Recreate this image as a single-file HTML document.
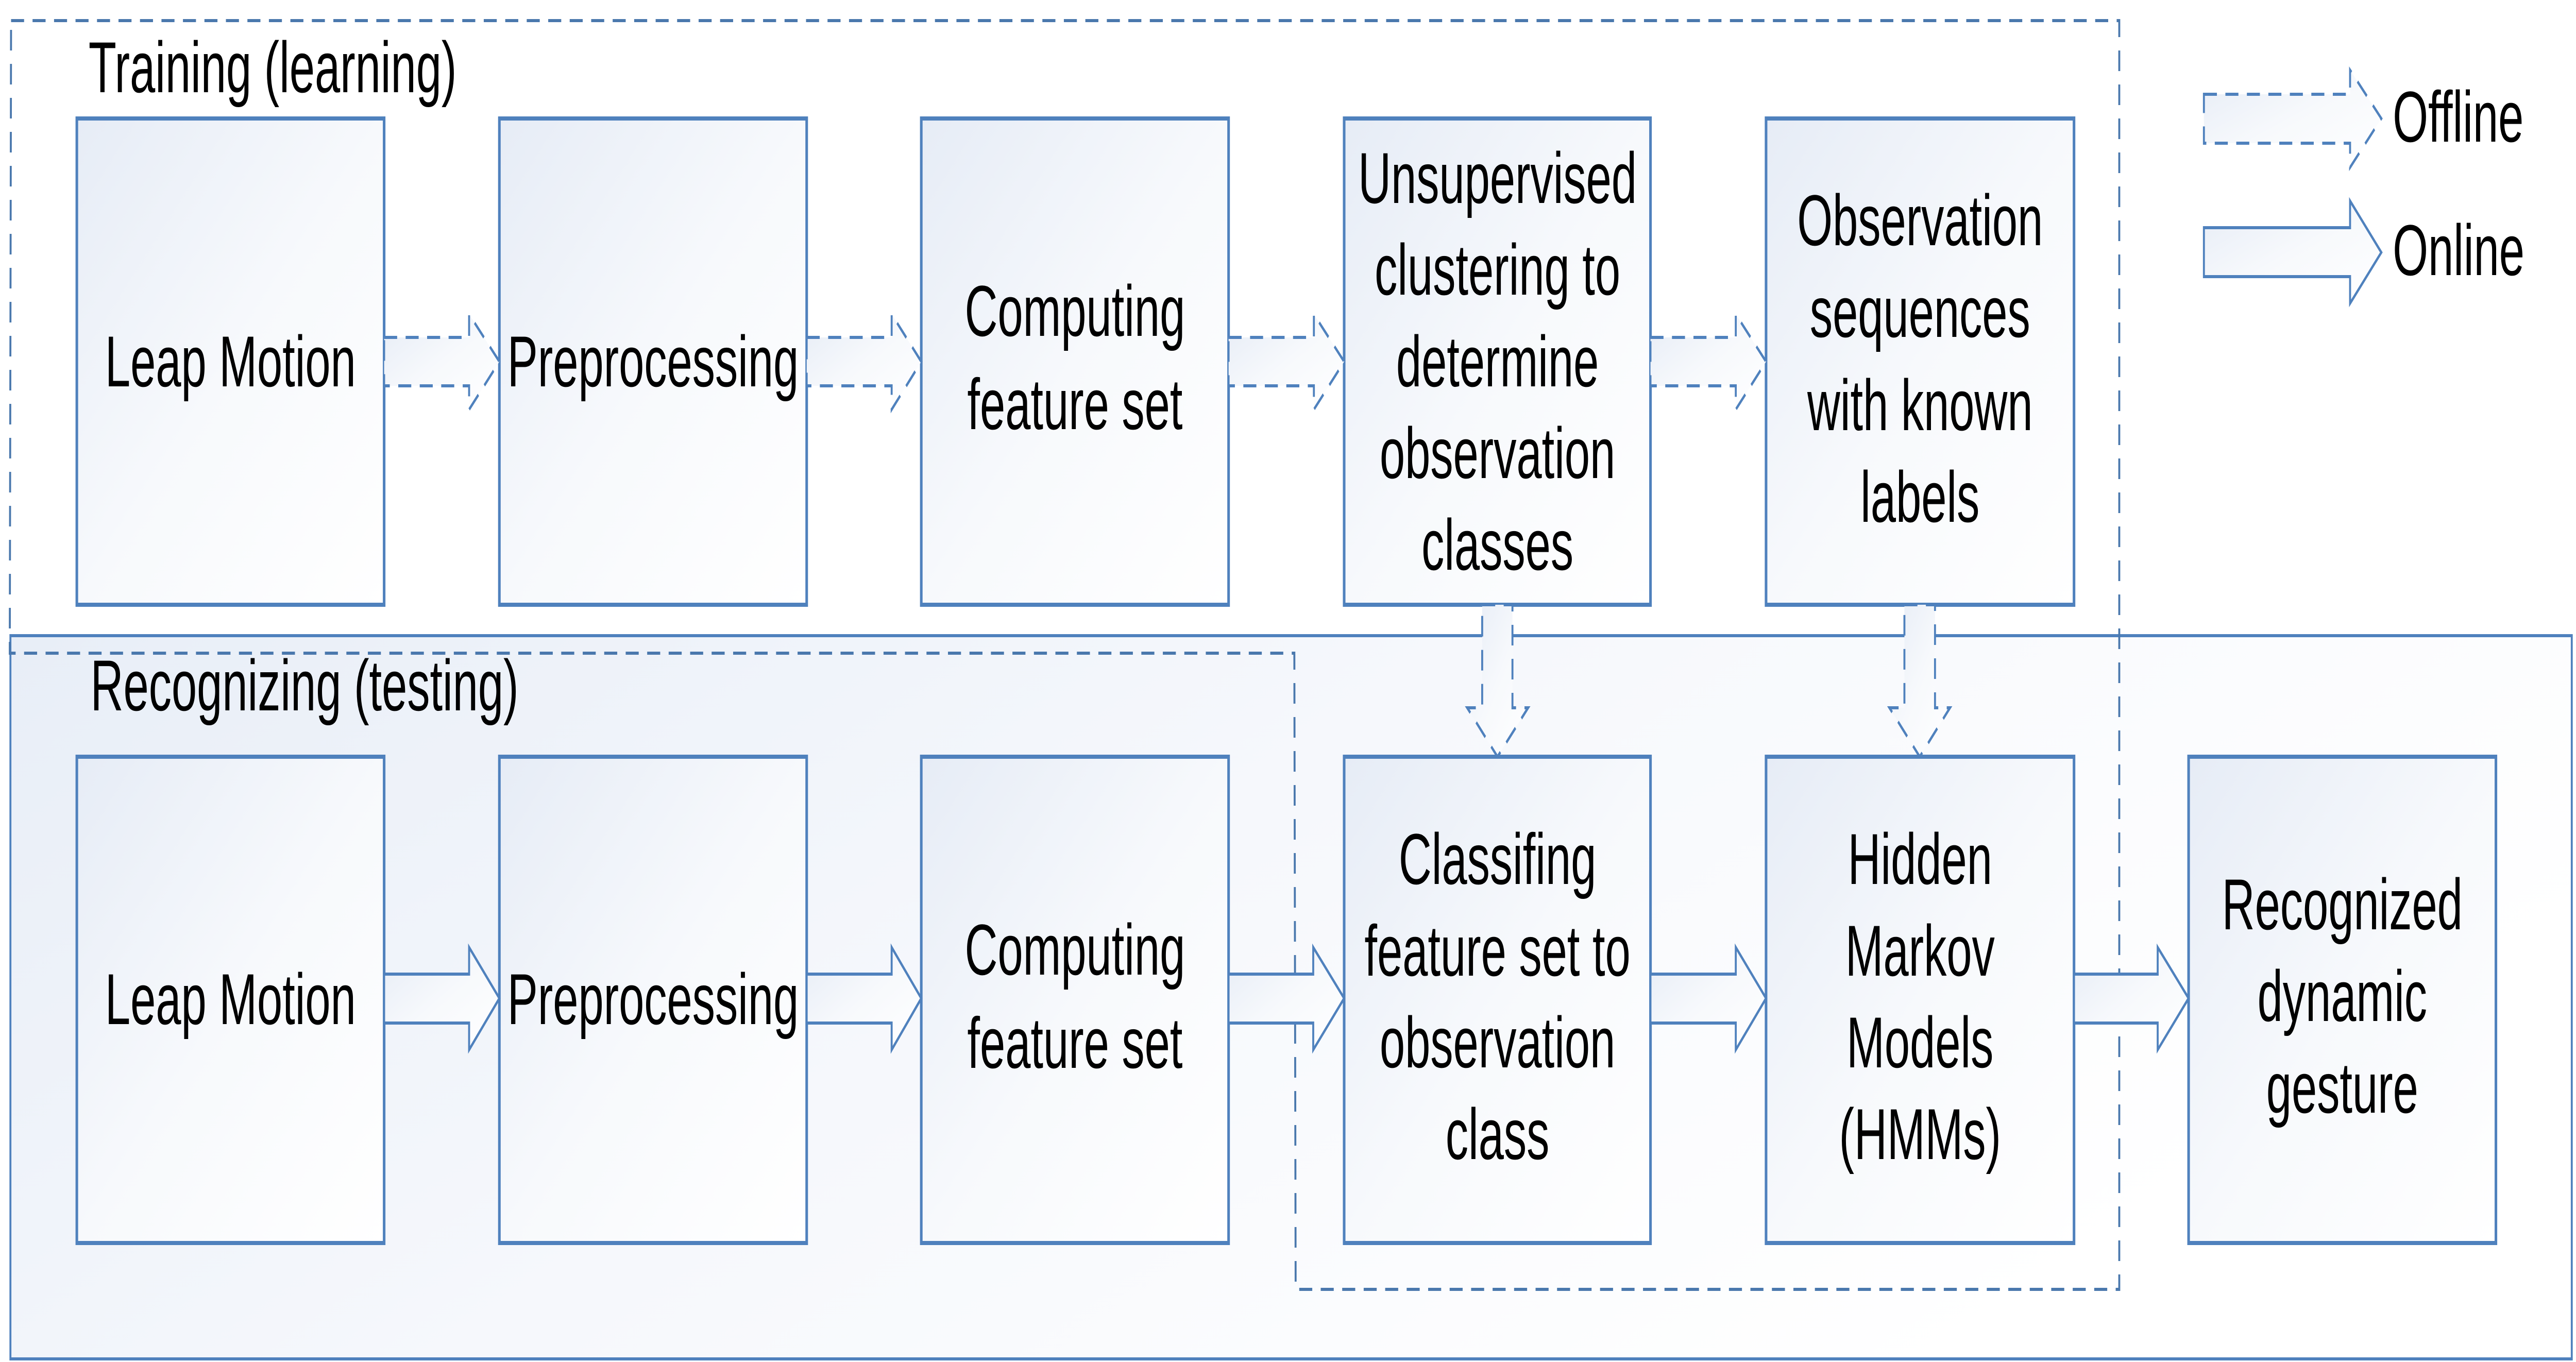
<!DOCTYPE html>
<html><head><meta charset="utf-8"><style>
html,body{margin:0;padding:0;background:#fff;width:100%;height:100%;overflow:hidden;}
svg{display:block;width:100vw;height:100vh;}
text{font-family:"Liberation Sans",sans-serif;font-size:140px;fill:#000;}
</style></head><body>
<svg viewBox="0 0 7913 2644" preserveAspectRatio="none" xmlns="http://www.w3.org/2000/svg">
<defs>
<linearGradient id="g" x1="0" y1="0" x2="1" y2="1">
<stop offset="0" stop-color="#e6ecf6"/><stop offset="0.5" stop-color="#f7f9fc"/><stop offset="1" stop-color="#ffffff"/>
</linearGradient>
<linearGradient id="gb" x1="0" y1="0" x2="1" y2="0.4">
<stop offset="0" stop-color="#e8eef7"/><stop offset="0.5" stop-color="#f6f8fc"/><stop offset="1" stop-color="#ffffff"/>
</linearGradient>
</defs>
<rect x="32" y="1234" width="7868" height="1404" fill="url(#gb)" stroke="#4f81bd" stroke-width="6"/>
<polygon points="34,40 6510,40 6510,2503 3980,2503 3976,1268 30,1268" fill="none" stroke="#4a78ad" stroke-width="6" stroke-dasharray="40,26"/>
<g fill="url(#g)" stroke="#4f81bd" stroke-width="8">
<rect x="236" y="230" width="944" height="944"/>
<rect x="1534" y="230" width="944" height="944"/>
<rect x="2830" y="230" width="944" height="944"/>
<rect x="4129" y="230" width="941" height="944"/>
<rect x="5425" y="230" width="946" height="944"/>
<rect x="236" y="1469" width="944" height="944"/>
<rect x="1534" y="1469" width="944" height="944"/>
<rect x="2830" y="1469" width="944" height="944"/>
<rect x="4129" y="1469" width="941" height="944"/>
<rect x="5425" y="1469" width="946" height="944"/>
<rect x="6723" y="1469" width="944" height="944"/>
</g>
<g fill="url(#g)" stroke="#4f81bd" stroke-width="6" stroke-dasharray="40,26">
<polygon points="1180,655 1441,655 1441,610 1534,702 1441,795 1441,749 1180,749"/>
<polygon points="2478,655 2739,655 2739,610 2830,702 2739,795 2739,749 2478,749"/>
<polygon points="3774,655 4036,655 4036,610 4129,702 4036,795 4036,749 3774,749"/>
<polygon points="5070,655 5332,655 5332,610 5425,702 5332,795 5332,749 5070,749"/>
<polygon points="4553,1174 4646,1174 4646,1374 4694,1374 4600,1469 4507,1374 4553,1374"/>
<polygon points="5850,1174 5944,1174 5944,1374 5990,1374 5897,1469 5804,1374 5850,1374"/>
<polygon points="6770,183 7219,183 7219,136 7315,230 7219,325 7219,278 6770,278"/>
</g>
<g fill="url(#g)" stroke="#4f81bd" stroke-width="6">
<polygon points="1180,1891 1441,1891 1441,1839 1534,1938 1441,2038 1441,1986 1180,1986"/>
<polygon points="2478,1891 2739,1891 2739,1839 2830,1938 2739,2038 2739,1986 2478,1986"/>
<polygon points="3774,1891 4034,1891 4034,1839 4129,1938 4034,2038 4034,1986 3774,1986"/>
<polygon points="5070,1891 5332,1891 5332,1839 5425,1938 5332,2038 5332,1986 5070,1986"/>
<polygon points="6371,1891 6628,1891 6628,1839 6723,1938 6628,2038 6628,1986 6371,1986"/>
<polygon points="6770,442 7219,442 7219,390 7315,490 7219,589 7219,537 6770,537"/>
</g>
<text x="272" y="179">Training (learning)</text>
<text x="278" y="1379">Recognizing (testing)</text>
<text x="7350" y="275">Offline</text>
<text x="7350" y="534">Online</text>
<g text-anchor="middle">
<text x="708" y="750">Leap Motion</text>
<text x="2006" y="750">Preprocessing</text>
<text x="3302" y="652">Computing</text><text x="3302" y="833">feature set</text>
<text x="4600" y="394">Unsupervised</text><text x="4600" y="572">clustering to</text><text x="4600" y="750">determine</text><text x="4600" y="928">observation</text><text x="4600" y="1106">classes</text>
<text x="5898" y="476">Observation</text><text x="5898" y="654">sequences</text><text x="5898" y="835">with known</text><text x="5898" y="1013">labels</text>
<text x="708" y="1988">Leap Motion</text>
<text x="2006" y="1988">Preprocessing</text>
<text x="3302" y="1892">Computing</text><text x="3302" y="2073">feature set</text>
<text x="4600" y="1716">Classifing</text><text x="4600" y="1894">feature set to</text><text x="4600" y="2072">observation</text><text x="4600" y="2250">class</text>
<text x="5898" y="1716">Hidden</text><text x="5898" y="1894">Markov</text><text x="5898" y="2072">Models</text><text x="5898" y="2250">(HMMs)</text>
<text x="7195" y="1804">Recognized</text><text x="7195" y="1982">dynamic</text><text x="7195" y="2160">gesture</text>
</g>
</svg>
</body></html>
